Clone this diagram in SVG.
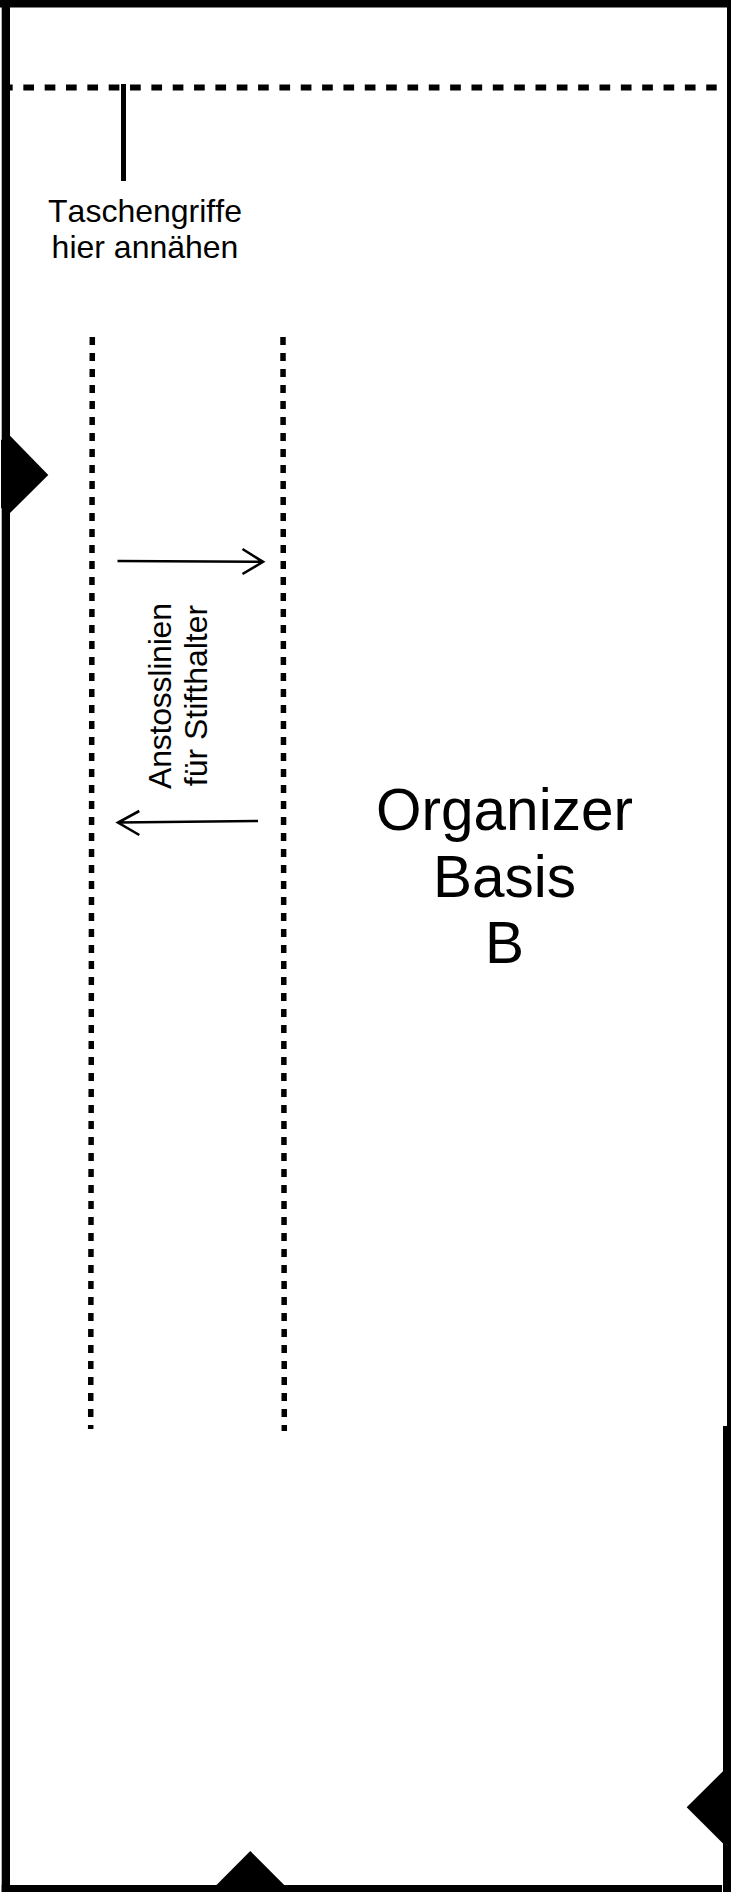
<svg xmlns="http://www.w3.org/2000/svg" width="731" height="1892" viewBox="0 0 731 1892">
<style>
text{font-family:"Liberation Sans",Arial,sans-serif;fill:#000;text-anchor:middle}
.s{font-size:32px}
.k{font-kerning:none}
.b{font-size:58.5px}
.d{fill:none;stroke:#000;stroke-width:5.5;stroke-dasharray:8 8}
.a{fill:none;stroke:#000;stroke-width:2.6}
</style>
<rect width="731" height="1892" fill="#fff"/>
<g id="outline">
<rect x="0" y="0" width="731" height="7.5"/>
<rect x="1.7" y="0" width="8.3" height="1892"/>
<rect x="727" y="0" width="4" height="1426"/>
<rect x="723" y="1426" width="8" height="466"/>
<rect x="1.7" y="1885" width="720.3" height="7"/>
</g>
<g id="notches">
<polygon points="1,440 10,435.7 48.3,475 10,513 1,508"/>
<polygon points="216,1885.5 250.3,1851 284.7,1885.5"/>
<polygon points="723.5,1770.7 686.7,1807.3 723.5,1844"/>
</g>
<g id="connectors">
<line x1="2" y1="87.5" x2="716.7" y2="87.5" stroke="#000" stroke-width="6" stroke-dasharray="10.67 10.67"/>
<line x1="123.5" y1="84" x2="123.5" y2="181" stroke="#000" stroke-width="5"/>
<line class="d" x1="92.3" y1="337" x2="90.7" y2="1429"/>
<line class="d" x1="283" y1="337" x2="284.3" y2="1431"/>
<path class="a" d="M117.5 561L263 561.8M242.5 549L263 561.8L242.5 574"/>
<path class="a" d="M258 821L118 822.5M139.3 811L118 822.5L139.3 835"/>
</g>
<g id="label-handles"><text class="s k" x="145" y="221.5">Taschengriffe</text><text class="s" x="145" y="257.5">hier annähen</text></g>
<g id="label-lines"><text class="s" transform="translate(170.7 696) rotate(-90)" textLength="186">Anstosslinien</text><text class="s" transform="translate(207.3 695.5) rotate(-90)">für Stifthalter</text></g>
<g id="label-title"><text class="b" x="504.5" y="829.5">Organizer</text><text class="b" x="504.5" y="896.7">Basis</text><text class="b" x="504.5" y="963.3">B</text></g>
</svg>
